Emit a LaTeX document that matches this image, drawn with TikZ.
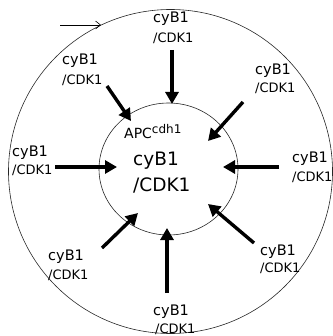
\documentclass[tikz,border=0pt]{standalone}
\usepackage{fontspec}
\setmainfont{DejaVu Sans}
\usetikzlibrary{arrows.meta}
\begin{document}
\begin{tikzpicture}[x=1pt,y=-1pt,
  ring/.style={draw=black!85, line width=0.6pt},
  push/.style={line width=3.4pt, -{Triangle[length=12pt,width=13pt]}},
  pointer/.style={line width=0.6pt, -{Straight Barb[length=5pt,width=8pt]}},
  big/.style={anchor=base west, inner sep=0pt, font=\fontsize{14.5}{16}\selectfont},
  small/.style={anchor=base west, inner sep=0pt, font=\fontsize{13}{15}\selectfont},
  core/.style={anchor=base west, inner sep=0pt, font=\fontsize{18.5}{22}\selectfont}]
\useasboundingbox (0,0) rectangle (332,336);
% rings
\draw[ring] (170.5,171.5) circle[radius=162];
\draw[ring] (168.5,169) ellipse[x radius=69.5, y radius=66];
% pointer on the outer ring
\coordinate (p0) at (60,25);
\coordinate (p1) at (101,25);
\draw[pointer] (p0) -- (p1);
% labels
\node[big]   (t1) at (153,23)  {cyB1};
\node[small] (t2) at (153,43)  {/CDK1};
\node[big]   (tl1) at (62,65)  {cyB1};
\node[small] (tl2) at (62,85)  {/CDK1};
\node[big]   (tr1) at (255,75) {cyB1};
\node[small] (tr2) at (255,93) {/CDK1};
\node[big]   (l1) at (12,157)  {cyB1};
\node[small] (l2) at (12,175)  {/CDK1};
\node[big]   (r1) at (292,163) {cyB1};
\node[small] (r2) at (292,182) {/CDK1};
\node[big]   (bl1) at (48,260) {cyB1};
\node[small] (bl2) at (48,279) {/CDK1};
\node[big]   (b1) at (153,315) {cyB1};
\node[small] (b2) at (155,333) {/CDK1};
\node[big]   (br1) at (260,255) {cyB1};
\node[small] (br2) at (260,272) {/CDK1};
% centre
\node[anchor=base west, inner sep=0pt, font=\fontsize{14}{16}\selectfont] (apc) at (124,139) {APC\textsuperscript{\fontsize{12}{14}\selectfont cdh1}};
\node[core] (c1) at (133,166) {cyB1};
\node[core] (c2) at (133,191) {/CDK1};
% arrow end points
\coordinate (sT) at (172,50);   \coordinate (eT) at (172,104);
\coordinate (sTL) at (107,86);  \coordinate (eTL) at (131,121);
\coordinate (sTR) at (243,102); \coordinate (eTR) at (208,141);
\coordinate (sL) at (55,167);   \coordinate (eL) at (117,167);
\coordinate (sR) at (279,167);  \coordinate (eR) at (223,167);
\coordinate (sBL) at (102,248); \coordinate (eBL) at (138,213);
\coordinate (sB) at (167,293);  \coordinate (eB) at (167,228);
\coordinate (sBR) at (254,243); \coordinate (eBR) at (208,204);
\draw[push] (sT) -- (eT);
\draw[push] (sTL) -- (eTL);
\draw[push] (sTR) -- (eTR);
\draw[push] (sL) -- (eL);
\draw[push] (sR) -- (eR);
\draw[push] (sBL) -- (eBL);
\draw[push] (sB) -- (eB);
\draw[push] (sBR) -- (eBR);
\end{tikzpicture}
\end{document}
